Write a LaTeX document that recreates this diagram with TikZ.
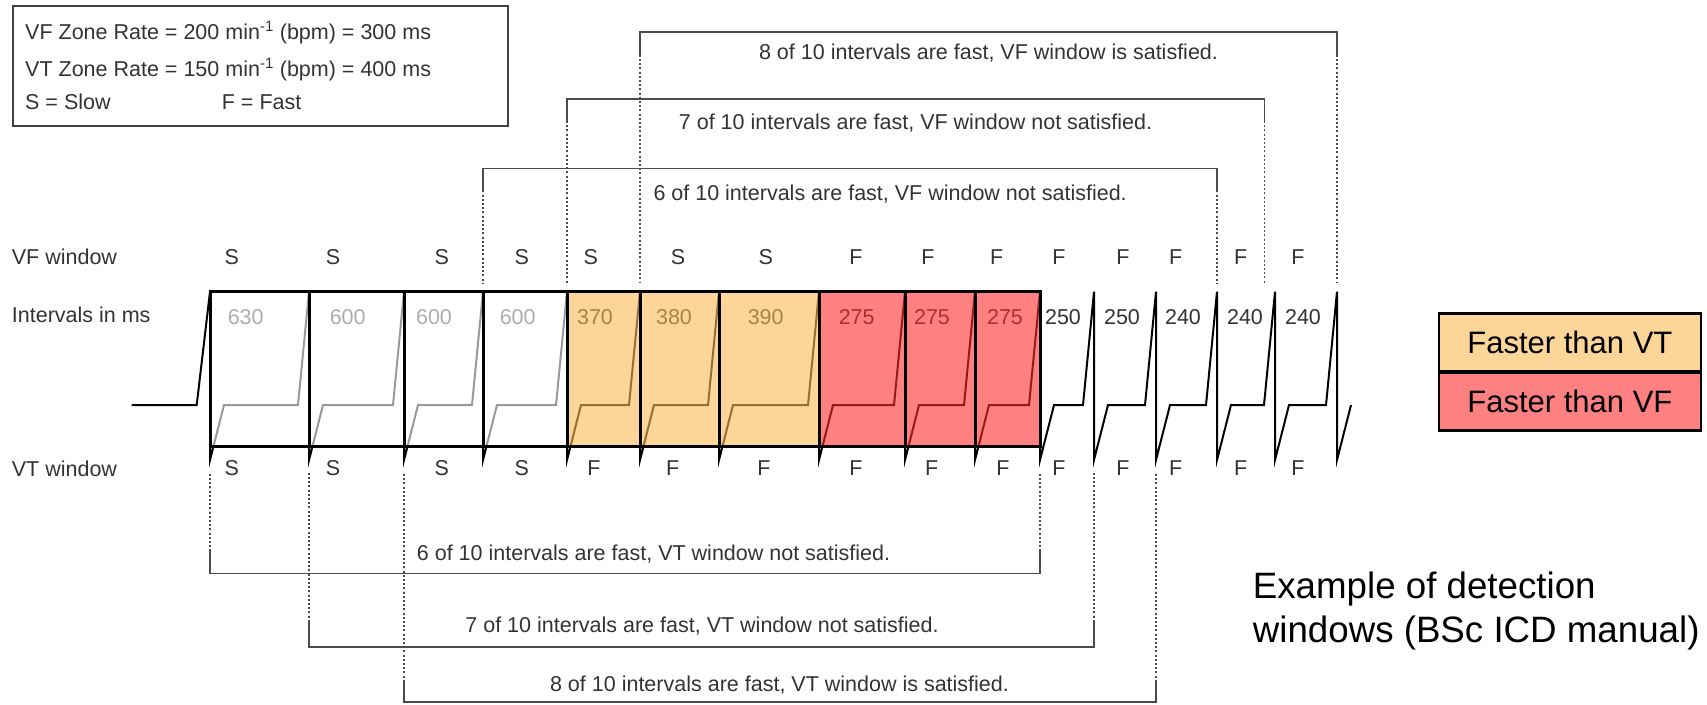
\documentclass[tikz,border=0pt]{standalone}
\usepackage{fontspec}
\setmainfont{Liberation Sans}
\usetikzlibrary{calc}

\definecolor{vtfill}{RGB}{250,185,85}
\definecolor{vffill}{RGB}{255,43,43}
\definecolor{vtlight}{RGB}{252,213,153}
\definecolor{vflight}{RGB}{255,128,128}

\begin{document}
\begin{tikzpicture}[
  x=1pt, y=-1pt,
  txt/.style={font=\fontsize{21.5}{26}\selectfont, text=black!80, inner sep=0pt},
  wave/.style={line width=2pt, line join=miter},
  cell/.style={fill opacity=0.6},
  sep/.style={line width=3pt},
  brk/.style={draw=black!70, line width=1.6pt},
  brkdot/.style={draw=black!70, line width=1.6pt, dash pattern=on 2pt off 2.2pt},
  legbox/.style={draw, line width=2.4pt, minimum width=262pt, minimum height=57.2pt, inner sep=0pt, font=\fontsize{31}{36}\selectfont},
]
\useasboundingbox (0,0) rectangle (1707,704);

% zone rates
\node[draw=black!75, line width=2pt, minimum width=495pt, minimum height=120pt, anchor=north west] (info) at (11.7,5) {};
\node[txt, anchor=base west] (vfrate) at (25,39) {VF Zone Rate = 200 min\textsuperscript{-1} (bpm) = 300 ms};
\node[txt, anchor=base west] (vtrate) at (25,76) {VT Zone Rate = 150 min\textsuperscript{-1} (bpm) = 400 ms};
\node[txt, anchor=base west] (slow) at (25,109) {S = Slow};
\node[txt, anchor=base west] (fast) at (221.7,109) {F = Fast};

% row labels
\node[txt, anchor=base west] (vfrow) at (11.7,264) {VF window};
\node[txt, anchor=base west] (msrow) at (11.7,322.5) {Intervals in ms};
\node[txt, anchor=base west] (vtrow) at (11.7,476) {VT window};

% R spikes
\foreach \x [count=\i from 0] in {210,309,404,483,567,640,719,819,905,975,1040,1094,1156,1217,1275,1337}
  \coordinate (p\i) at (\x,291.7);

% ECG trace
\draw[wave] (131.7,405) -- (196.7,405) -- (p0)
  \foreach \i [evaluate=\i as \j using {int(\i+1)}] in {0,...,14} {
    -- ($(p\i)+(0,168.3)$) -- ($(p\i)+(14,113.3)$) -- ($(p\j)+(-11,113.3)$) -- (p\j)
  }
  -- ($(p15)+(0,168.3)$) -- ($(p15)+(14,113.3)$);

% intervals
\foreach \x/\v [count=\i] in {245.7/630,347.7/600,434/600,517.7/600,595/370,674/380,765.7/390,856.7/275,932/275,1005/275,1063/250,1122/250,1183/240,1245/240,1303/240}
  \node[txt, anchor=base] (ms\i) at (\x,324) {\v};

% shaded cells
\foreach \a/\b/\c in {0/1/white,1/2/white,2/3/white,3/4/white,4/5/vtfill,5/6/vtfill,6/7/vtfill,7/8/vffill,8/9/vffill,9/10/vffill}
  \fill[\c, cell] (p\a) rectangle ($(p\b)+(0,155)$);
\draw[sep] (p0) rectangle ($(p10)+(0,155)$);
\foreach \i in {1,...,9}
  \draw[sep] (p\i) -- ++(0,155);

% S / F marks
\foreach \x/\l [count=\i] in {231.7/S,333/S,441.7/S,521.7/S,590.7/S,678/S,765.7/S,856/F,928/F,996.7/F,1059/F,1123/F,1175.7/F,1240.7/F,1298/F}
  \node[txt, anchor=base] (vf\i) at (\x,264) {\l};
\foreach \x/\l [count=\i] in {231.7/S,333/S,441.7/S,521.7/S,594/F,672.7/F,764/F,856/F,931.7/F,1003/F,1059/F,1123/F,1175.7/F,1240.7/F,1298/F}
  \node[txt, anchor=base] (vt\i) at (\x,475.5) {\l};

% VF windows
\coordinate (vfend) at (0,283);
\coordinate (vfsix) at (0,168.3);
\coordinate (vfseven) at (0,99);
\coordinate (vfeight) at (0,31.7);
\coordinate (vfseven r) at (1264.3,291.7);
\draw[brk] ($(p3 |- vfsix)+(0,22)$) -- (p3 |- vfsix) -- (p13 |- vfsix) -- ++(0,22);
\draw[brkdot] ($(p3 |- vfsix)+(0,22)$) -- (p3 |- vfend);
\draw[brkdot] ($(p13 |- vfsix)+(0,22)$) -- (p13 |- vfend);
\draw[brk] ($(p4 |- vfseven)+(0,22)$) -- (p4 |- vfseven) -- (vfseven r |- vfseven) -- ++(0,22);
\draw[brkdot] ($(p4 |- vfseven)+(0,22)$) -- (p4 |- vfend);
\draw[brkdot] ($(vfseven r |- vfseven)+(0,22)$) -- (vfseven r |- vfend);
\draw[brk] ($(p5 |- vfeight)+(0,23)$) -- (p5 |- vfeight) -- (p15 |- vfeight) -- ++(0,23);
\draw[brkdot] ($(p5 |- vfeight)+(0,23)$) -- (p5 |- vfend);
\draw[brkdot] ($(p15 |- vfeight)+(0,23)$) -- (p15 |- vfend);
\node[txt, anchor=base west] (vfsixtxt) at (653.3,200.5) {6 of 10 intervals are fast, VF window not satisfied.};
\node[txt, anchor=base] (vfseventxt) at (915.5,129) {7 of 10 intervals are fast, VF window not satisfied.};
\node[txt, anchor=base] (vfeighttxt) at (988.5,59) {8 of 10 intervals are fast, VF window is satisfied.};

% VT windows
\coordinate (vtend) at (0,471.7);
\coordinate (vtsix) at (0,573.3);
\coordinate (vtseven) at (0,646.7);
\coordinate (vteight) at (0,701.7);
\draw[brk] ($(p0 |- vtsix)+(0,-22)$) -- (p0 |- vtsix) -- (p10 |- vtsix) -- ++(0,-22);
\draw[brkdot] ($(p0 |- vtsix)+(0,-22)$) -- (p0 |- vtend);
\draw[brkdot] ($(p10 |- vtsix)+(0,-22)$) -- (p10 |- vtend);
\draw[brk] ($(p1 |- vtseven)+(0,-25)$) -- (p1 |- vtseven) -- (p11 |- vtseven) -- ++(0,-25);
\draw[brkdot] ($(p1 |- vtseven)+(0,-25)$) -- (p1 |- vtend);
\draw[brkdot] ($(p11 |- vtseven)+(0,-25)$) -- (p11 |- vtend);
\draw[brk] ($(p2 |- vteight)+(0,-20)$) -- (p2 |- vteight) -- (p12 |- vteight) -- ++(0,-20);
\draw[brkdot] ($(p2 |- vteight)+(0,-20)$) -- (p2 |- vtend);
\draw[brkdot] ($(p12 |- vteight)+(0,-20)$) -- (p12 |- vtend);
\node[txt, anchor=base west] (vtsixtxt) at (416.7,560) {6 of 10 intervals are fast, VT window not satisfied.};
\node[txt, anchor=base] (vtseventxt) at (702,632.5) {7 of 10 intervals are fast, VT window not satisfied.};
\node[txt, anchor=base] (vteighttxt) at (779.5,691) {8 of 10 intervals are fast, VT window is satisfied.};

% legend
\node[legbox, fill=vtlight, anchor=north west] (legvt) at (1437.7,312.3) {Faster than VT};
\node[legbox, fill=vflight, anchor=north] (legvf) at (legvt.south) {Faster than VF};

% caption
\node[font=\fontsize{36.7}{43.4}\selectfont, align=left, anchor=north west, inner sep=0pt] (caption) at (1252.7,572) {Example of detection\\windows (BSc ICD manual)};
\end{tikzpicture}
\end{document}
